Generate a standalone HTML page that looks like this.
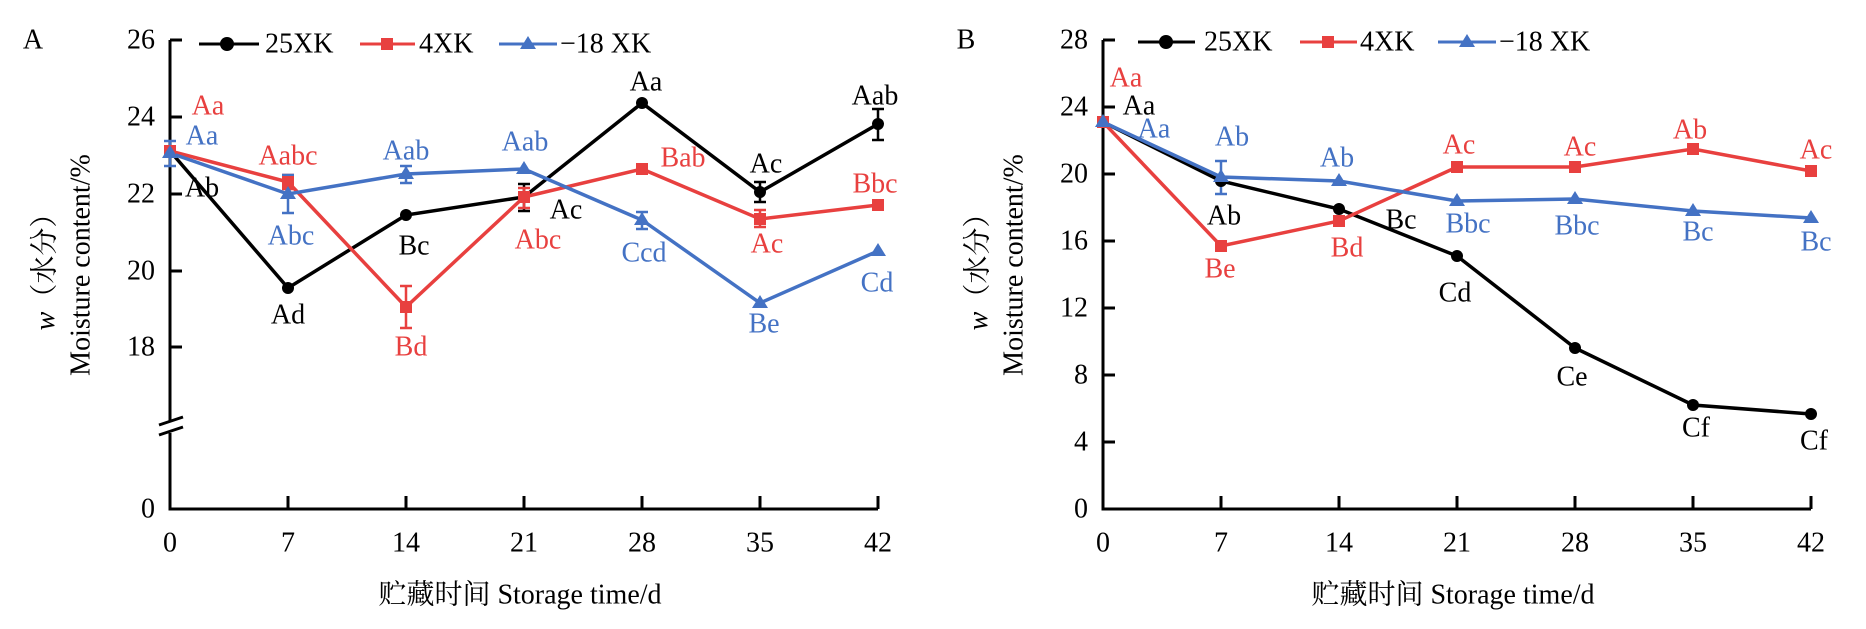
<!DOCTYPE html>
<html><head><meta charset="utf-8"><style>
body{margin:0;background:#fff}
svg{display:block}
svg text{font-family:"Liberation Serif","Times New Roman","Noto Serif CJK SC",serif;font-size:28px}
.k{fill:#000}.r{fill:#e8403f}.b{fill:#4472c4}
</style></head><body>
<svg width="1866" height="629" viewBox="0 0 1866 629" xmlns="http://www.w3.org/2000/svg" font-family="Liberation Serif, Noto Serif CJK SC, serif" font-size="28">
<g text-anchor="middle" dominant-baseline="central">
<!-- ===== Panel A ===== -->
<text x="33" y="40">A</text>
<path d="M170 40V421M170 433V509H878" stroke="#000" stroke-width="3" fill="none"/>
<path d="M159 425L183 417M159 435L183 427" stroke="#000" stroke-width="3"/>
<path d="M170 40h12M170 117h12M170 194h12M170 271h12M170 347h12M288 509v-13M406 509v-13M524 509v-13M642 509v-13M760 509v-13M878 509v-13" stroke="#000" stroke-width="3"/>
<g text-anchor="end"><text x="155" y="40">26</text><text x="155" y="117">24</text><text x="155" y="194">22</text><text x="155" y="271">20</text><text x="155" y="347">18</text><text x="155" y="509">0</text></g>
<text x="170" y="543">0</text><text x="288" y="543">7</text><text x="406" y="543">14</text><text x="524" y="543">21</text><text x="642" y="543">28</text><text x="760" y="543">35</text><text x="878" y="543">42</text>
<text x="520" y="595">贮藏时间 Storage time/d</text>
<text transform="translate(45,265) rotate(-90)"><tspan font-style="italic">w</tspan>（水分）</text>
<text transform="translate(81,265) rotate(-90)">Moisture content/%</text>
<path d="M199 44h60" stroke="#000" stroke-width="3"/><circle cx="227" cy="44" r="7"/>
<text x="265" y="44" text-anchor="start">25XK</text>
<path d="M360 44h55" stroke="#e8403f" stroke-width="3"/><rect x="381" y="38" width="12" height="12" fill="#e8403f"/>
<text x="419" y="44" text-anchor="start">4XK</text>
<path d="M499 44h58" stroke="#4472c4" stroke-width="3"/><path d="M528 36l8 13h-16z" fill="#4472c4"/>
<text x="560" y="44" text-anchor="start">−18 XK</text>
<g stroke-width="2.5" fill="none">
<path stroke="#000" d="M878 109v31M872 109h12M872 140h12M760 182v20M754 182h12M754 202h12M524 184v27M518 184h12M518 211h12"/>
<path stroke="#e8403f" d="M406 286v42M400 286h12M400 328h12M524 188v20M518 188h12M518 208h12M288 175v14M282 175h12M282 189h12M760 210v17M754 210h12M754 227h12"/>
<path stroke="#4472c4" d="M288 175v38M282 175h12M282 213h12M170 141v25M164 141h12M164 166h12M406 166v17M400 166h12M400 183h12M642 212v17M636 212h12M636 229h12"/>
</g>
<polyline fill="none" stroke="#000" stroke-width="3.5" points="170,151 288,288 406,215 524,197 642,103 760,192 878,124"/>
<polyline fill="none" stroke="#e8403f" stroke-width="3.5" points="170,151 288,182 406,307 524,197 642,169 760,219 878,205"/>
<polyline fill="none" stroke="#4472c4" stroke-width="3.5" points="170,153 288,194 406,174 524,169 642,220 760,303 878,251"/>
<g><circle cx="170" cy="151" r="6"/><circle cx="288" cy="288" r="6"/><circle cx="406" cy="215" r="6"/><circle cx="524" cy="197" r="6"/><circle cx="642" cy="103" r="6"/><circle cx="760" cy="192" r="6"/><circle cx="878" cy="124" r="6"/></g>
<g fill="#e8403f"><rect x="164" y="145" width="12" height="12"/><rect x="282" y="176" width="12" height="12"/><rect x="400" y="301" width="12" height="12"/><rect x="518" y="191" width="12" height="12"/><rect x="636" y="163" width="12" height="12"/><rect x="754" y="213" width="12" height="12"/><rect x="872" y="199" width="12" height="12"/></g>
<g fill="#4472c4"><path d="M170 145l8 13h-16zM288 186l8 13h-16zM406 166l8 13h-16zM524 161l8 13h-16zM642 212l8 13h-16zM760 295l8 13h-16zM878 243l8 13h-16z"/></g>
<g class="k"><text x="202" y="188">Ab</text><text x="288" y="315">Ad</text><text x="414" y="246">Bc</text><text x="566" y="210">Ac</text><text x="646" y="82">Aa</text><text x="766" y="164">Ac</text><text x="875" y="96">Aab</text></g>
<g class="r"><text x="208" y="106">Aa</text><text x="288" y="156">Aabc</text><text x="411" y="347">Bd</text><text x="538" y="240">Abc</text><text x="683" y="158">Bab</text><text x="767" y="244">Ac</text><text x="875" y="184">Bbc</text></g>
<g class="b"><text x="202" y="136">Aa</text><text x="291" y="236">Abc</text><text x="406" y="151">Aab</text><text x="525" y="142">Aab</text><text x="644" y="253">Ccd</text><text x="764" y="324">Be</text><text x="877" y="283">Cd</text></g>

<!-- ===== Panel B ===== -->
<text x="966" y="40">B</text>
<path d="M1103 40V509H1811" stroke="#000" stroke-width="3" fill="none"/>
<path d="M1103 40h12M1103 107h12M1103 174h12M1103 241h12M1103 308h12M1103 375h12M1103 442h12M1221 509v-13M1339 509v-13M1457 509v-13M1575 509v-13M1693 509v-13M1811 509v-13" stroke="#000" stroke-width="3"/>
<g text-anchor="end"><text x="1088" y="40">28</text><text x="1088" y="107">24</text><text x="1088" y="174">20</text><text x="1088" y="241">16</text><text x="1088" y="308">12</text><text x="1088" y="375">8</text><text x="1088" y="442">4</text><text x="1088" y="509">0</text></g>
<text x="1103" y="543">0</text><text x="1221" y="543">7</text><text x="1339" y="543">14</text><text x="1457" y="543">21</text><text x="1575" y="543">28</text><text x="1693" y="543">35</text><text x="1811" y="543">42</text>
<text x="1453" y="595">贮藏时间 Storage time/d</text>
<text transform="translate(978,265) rotate(-90)"><tspan font-style="italic">w</tspan>（水分）</text>
<text transform="translate(1014,265) rotate(-90)">Moisture content/%</text>
<path d="M1138 42h57" stroke="#000" stroke-width="3"/><circle cx="1166" cy="42" r="7"/>
<text x="1204" y="42" text-anchor="start">25XK</text>
<path d="M1300 42h57" stroke="#e8403f" stroke-width="3"/><rect x="1322" y="36" width="12" height="12" fill="#e8403f"/>
<text x="1360" y="42" text-anchor="start">4XK</text>
<path d="M1438 42h58" stroke="#4472c4" stroke-width="3"/><path d="M1467 34l8 13h-16z" fill="#4472c4"/>
<text x="1499" y="42" text-anchor="start">−18 XK</text>
<path stroke="#4472c4" stroke-width="2.5" fill="none" d="M1221 161v33M1215 161h12M1215 194h12"/>
<polyline fill="none" stroke="#000" stroke-width="3.5" points="1103,122 1221,181 1339,209 1457,256 1575,348 1693,405 1811,414"/>
<polyline fill="none" stroke="#e8403f" stroke-width="3.5" points="1103,122 1221,246 1339,221 1457,167 1575,167 1693,149 1811,171"/>
<polyline fill="none" stroke="#4472c4" stroke-width="3.5" points="1103,122 1221,177 1339,181 1457,201 1575,199 1693,211 1811,218"/>
<g><circle cx="1103" cy="122" r="6"/><circle cx="1221" cy="181" r="6"/><circle cx="1339" cy="209" r="6"/><circle cx="1457" cy="256" r="6"/><circle cx="1575" cy="348" r="6"/><circle cx="1693" cy="405" r="6"/><circle cx="1811" cy="414" r="6"/></g>
<g fill="#e8403f"><rect x="1097" y="116" width="12" height="12"/><rect x="1215" y="240" width="12" height="12"/><rect x="1333" y="215" width="12" height="12"/><rect x="1451" y="161" width="12" height="12"/><rect x="1569" y="161" width="12" height="12"/><rect x="1687" y="143" width="12" height="12"/><rect x="1805" y="165" width="12" height="12"/></g>
<g fill="#4472c4"><path d="M1103 114l8 13h-16zM1221 169l8 13h-16zM1339 173l8 13h-16zM1457 193l8 13h-16zM1575 191l8 13h-16zM1693 203l8 13h-16zM1811 210l8 13h-16z"/></g>
<g class="k"><text x="1139" y="106">Aa</text><text x="1224" y="216">Ab</text><text x="1401" y="220">Bc</text><text x="1455" y="293">Cd</text><text x="1572" y="377">Ce</text><text x="1696" y="428">Cf</text><text x="1814" y="441">Cf</text></g>
<g class="r"><text x="1126" y="78">Aa</text><text x="1220" y="269">Be</text><text x="1347" y="248">Bd</text><text x="1459" y="145">Ac</text><text x="1580" y="147">Ac</text><text x="1690" y="130">Ab</text><text x="1816" y="150">Ac</text></g>
<g class="b"><text x="1154" y="129">Aa</text><text x="1232" y="137">Ab</text><text x="1337" y="158">Ab</text><text x="1468" y="224">Bbc</text><text x="1577" y="226">Bbc</text><text x="1698" y="232">Bc</text><text x="1816" y="242">Bc</text></g>
</g>
</svg>
</body></html>
